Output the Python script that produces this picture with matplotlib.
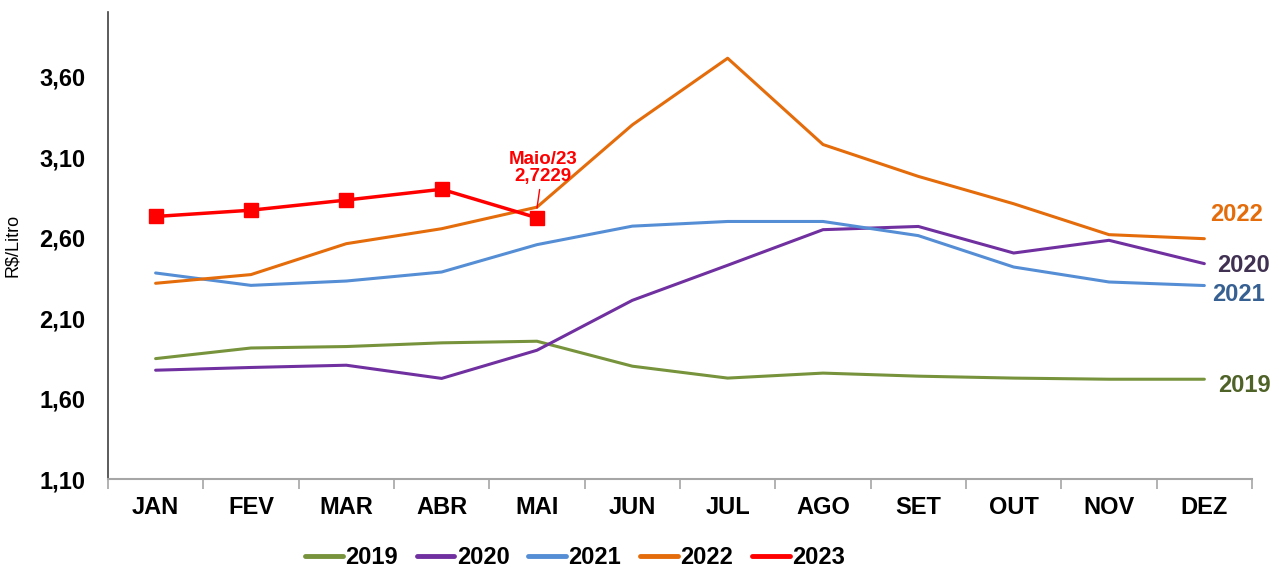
import matplotlib
matplotlib.use("Agg")
import matplotlib.pyplot as plt
from matplotlib.lines import Line2D
from matplotlib.ticker import FixedLocator, FuncFormatter

plt.rcParams['font.family'] = ['Liberation Sans', 'DejaVu Sans']

months = ["JAN", "FEV", "MAR", "ABR", "MAI", "JUN",
          "JUL", "AGO", "SET", "OUT", "NOV", "DEZ"]

y2019 = [1.848, 1.914, 1.923, 1.946, 1.956, 1.801, 1.727, 1.758, 1.739, 1.727, 1.720, 1.720]
y2020 = [1.776, 1.793, 1.807, 1.725, 1.900, 2.210, 2.428, 2.649, 2.669, 2.504, 2.583, 2.438]
y2021 = [2.380, 2.303, 2.330, 2.386, 2.556, 2.671, 2.700, 2.700, 2.612, 2.417, 2.324, 2.302]
y2022 = [2.316, 2.370, 2.562, 2.655, 2.789, 3.300, 3.714, 3.178, 2.980, 2.810, 2.618, 2.593]
y2023 = [2.731, 2.770, 2.833, 2.900, 2.7229]

yticks = [1.10, 1.60, 2.10, 2.60, 3.10, 3.60]

colors = {"2019": "#77933C", "2020": "#7030A0", "2021": "#558ED5",
          "2022": "#E46C0A", "2023": "#FF0000"}
label_colors = {"2019": "#4F6228", "2020": "#403152", "2021": "#376092",
                "2022": "#E46C0A"}

fig = plt.figure(figsize=(12.79, 5.70), dpi=100)
ax = fig.add_axes([0.0844, 0.1596, 0.8945, 0.819])

x = list(range(len(months)))
lw = 2.2
series = [("2019", y2019), ("2020", y2020), ("2021", y2021), ("2022", y2022)]
for name, vals in series:
    ax.plot(x, vals, color=colors[name], lw=lw, solid_capstyle="round")
ax.plot(x[:len(y2023)], y2023, color=colors["2023"], lw=2.5,
        marker="s", markersize=10, solid_capstyle="round")

# annotation for the last 2023 point
ax.annotate("Maio/23\n2,7229", xy=(4, y2023[-1] + 0.06), xytext=(4.06, 3.03),
            ha="center", va="center", color="#FF0000", fontsize=13.5,
            fontweight="bold", linespacing=1.0,
            arrowprops=dict(arrowstyle="-", color="#FF0000", lw=1,
                            shrinkA=1, shrinkB=0))

# series labels at the right end
ends = {"2022": (11.06, 2.744), "2020": (11.13, 2.428),
        "2021": (11.08, 2.248), "2019": (11.14, 1.683)}
for name, (tx, ty) in ends.items():
    ax.text(tx, ty, name, color=label_colors[name], fontsize=17,
            fontweight="bold", ha="left", va="center", clip_on=False)

ax.set_xlim(-0.5, 11.5)
ax.set_ylim(1.10, 4.0)
ax.set_xticks(x)
ax.set_xticklabels(months, fontsize=17, fontweight="bold")
ax.xaxis.set_minor_locator(FixedLocator([i - 0.5 for i in range(13)]))
ax.tick_params(axis="x", which="major", length=0, pad=12)
ax.tick_params(axis="x", which="minor", length=7, color="#A6A6A6", width=1.2)

ax.set_yticks(yticks)
ax.yaxis.set_major_formatter(FuncFormatter(lambda v, p: f"{v:.2f}".replace(".", ",")))
for t in ax.get_yticklabels():
    t.set_fontweight("bold")
    t.set_fontsize(17)
ax.tick_params(axis="y", length=0, pad=16)

ax.set_ylabel("R$/Litro", fontsize=13)
ax.yaxis.set_label_coords(-0.076, 0.5)

for s in ["top", "right"]:
    ax.spines[s].set_visible(False)
ax.spines["left"].set_color("#404040")
ax.spines["left"].set_linewidth(1.2)
ax.spines["bottom"].set_color("#A6A6A6")
ax.spines["bottom"].set_linewidth(1.5)

handles = [Line2D([], [], color=colors[n], lw=3.5, solid_capstyle="round")
           for n in ["2019", "2020", "2021", "2022", "2023"]]
fig.legend(handles, ["2019", "2020", "2021", "2022", "2023"], loc="center",
           bbox_to_anchor=(575 / 1279, 1 - 558 / 570), ncol=5,
           frameon=False, handlelength=1.6, handletextpad=0.1,
           columnspacing=0.8, prop={"weight": "bold", "size": 17})

fig.savefig("out.png", dpi=100)
